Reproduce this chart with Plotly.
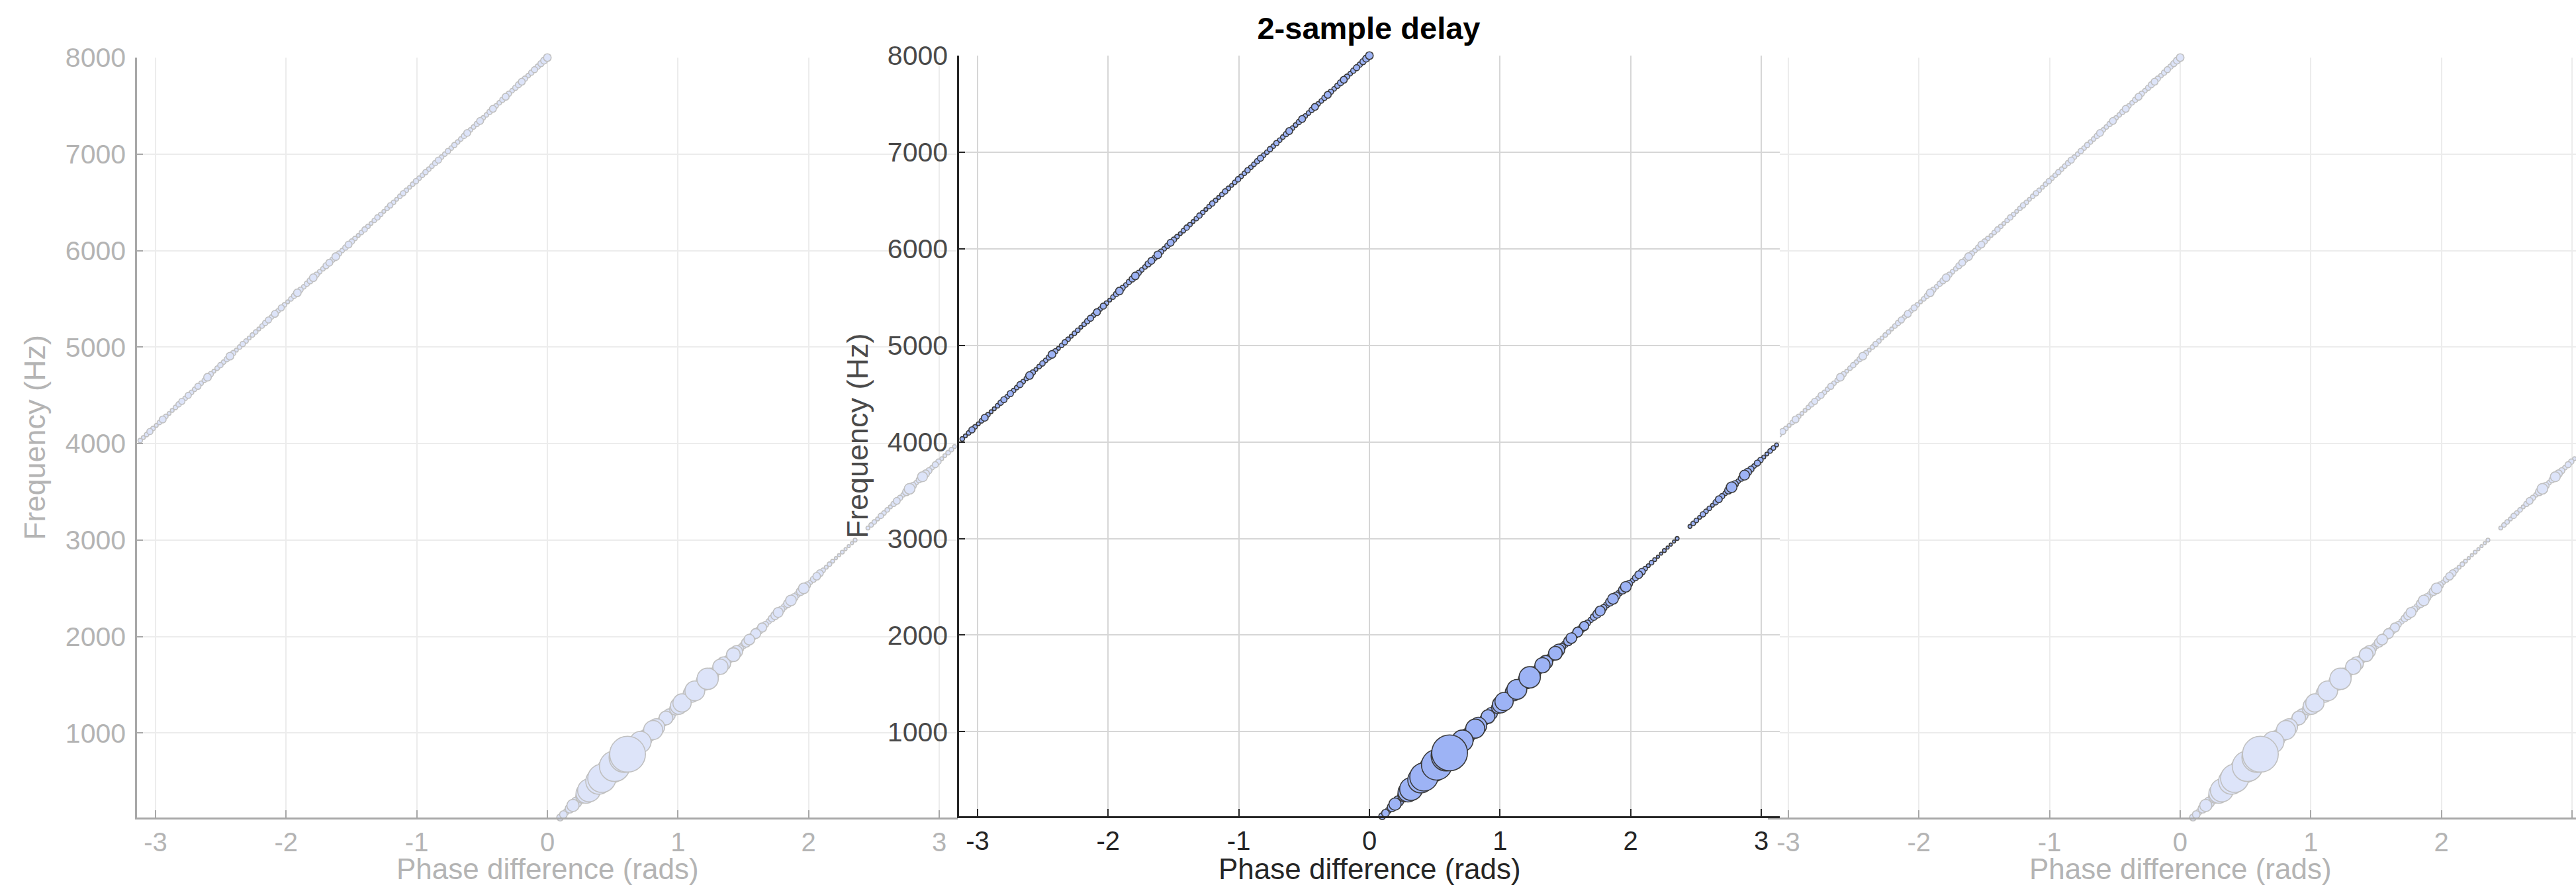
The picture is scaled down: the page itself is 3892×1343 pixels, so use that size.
import math
import plotly.graph_objects as go

# ---------------- data ----------------
title_text = "2-sample delay"
x_label = "Phase difference (rads)"
y_label = "Frequency (Hz)"
x_tick_values = [-3, -2, -1, 0, 1, 2, 3]
x_tick_text = ["-3", "-2", "-1", "0", "1", "2", "3"]
y_tick_values = [1000, 2000, 3000, 4000, 5000, 6000, 7000, 8000]
y_tick_text = ["1000", "2000", "3000", "4000", "5000", "6000", "7000", "8000"]

# lower branch (0 .. pi)
lower_freq_hz = [
    125, 156.25, 187.5, 218.75, 250, 281.25, 312.5, 343.75, 375, 406.25,
    437.5, 468.75, 500, 531.25, 562.5, 593.75, 625, 656.25, 687.5, 718.75,
    750, 781.25, 812.5, 843.75, 875, 906.25, 937.5, 968.75, 1000, 1031.25,
    1062.5, 1093.75, 1125, 1156.25, 1187.5, 1218.75, 1250, 1281.25, 1312.5, 1343.75,
    1375, 1406.25, 1437.5, 1468.75, 1500, 1531.25, 1562.5, 1593.75, 1625, 1656.25,
    1687.5, 1718.75, 1750, 1781.25, 1812.5, 1843.75, 1875, 1906.25, 1937.5, 1968.75,
    2000, 2031.25, 2062.5, 2093.75, 2125, 2156.25, 2187.5, 2218.75, 2250, 2281.25,
    2312.5, 2343.75, 2375, 2406.25, 2437.5, 2468.75, 2500, 2531.25, 2562.5, 2593.75,
    2625, 2656.25, 2687.5, 2718.75, 2750, 2781.25, 2812.5, 2843.75, 2875, 2906.25,
    2937.5, 2968.75, 3000,
    3125, 3156.25, 3187.5, 3218.75, 3250, 3281.25, 3312.5, 3343.75, 3375, 3406.25,
    3437.5, 3468.75, 3500, 3531.25, 3562.5, 3593.75, 3625, 3656.25, 3687.5, 3718.75,
    3750, 3781.25, 3812.5, 3843.75, 3875, 3906.25, 3937.5, 3968.75, 4000,
]
lower_phase_rad = [
    0.098, 0.123, 0.147, 0.172, 0.196, 0.221, 0.245, 0.270, 0.295, 0.319,
    0.344, 0.368, 0.393, 0.417, 0.442, 0.466, 0.491, 0.515, 0.540, 0.565,
    0.589, 0.614, 0.638, 0.663, 0.687, 0.712, 0.736, 0.761, 0.785, 0.810,
    0.834, 0.859, 0.884, 0.908, 0.933, 0.957, 0.982, 1.006, 1.031, 1.055,
    1.080, 1.104, 1.129, 1.154, 1.178, 1.203, 1.227, 1.252, 1.276, 1.301,
    1.325, 1.350, 1.374, 1.399, 1.424, 1.448, 1.473, 1.497, 1.522, 1.546,
    1.571, 1.595, 1.620, 1.644, 1.669, 1.694, 1.718, 1.743, 1.767, 1.792,
    1.816, 1.841, 1.865, 1.890, 1.914, 1.939, 1.963, 1.988, 2.013, 2.037,
    2.062, 2.086, 2.111, 2.135, 2.160, 2.184, 2.209, 2.233, 2.258, 2.283,
    2.307, 2.332, 2.356,
    2.454, 2.479, 2.503, 2.528, 2.553, 2.577, 2.602, 2.626, 2.651, 2.675,
    2.700, 2.724, 2.749, 2.773, 2.798, 2.823, 2.847, 2.872, 2.896, 2.921,
    2.945, 2.970, 2.994, 3.019, 3.043, 3.068, 3.093, 3.117, 3.142,
]
lower_magnitude = [
    9, 10, 8, 12, 16, 14, 12, 18, 26, 30,
    24, 26, 34, 37, 30, 28, 36, 40, 34, 30,
    40, 47, 34, 24, 24, 28, 22, 18, 20, 25,
    22, 14, 14, 18, 16, 12, 16, 22, 24, 16,
    14, 22, 26, 18, 14, 22, 28, 20, 12, 14,
    20, 18, 12, 12, 18, 16, 10, 9, 12, 14,
    10, 13, 10, 12, 8, 7, 9, 11, 13, 9,
    8, 11, 14, 10, 8, 11, 14, 9, 6, 8,
    10, 9, 6, 5, 6, 5, 4, 4, 5, 4,
    4, 4, 5,
    5, 6, 6, 5, 7, 6, 6, 5, 7, 9,
    7, 6, 10, 14, 9, 6, 8, 13, 10, 8,
    6, 8, 7, 5, 5, 6, 6, 5, 6,
]

# upper (wrapped) branch (-pi .. 0)
upper_freq_hz = [
    4031.25, 4062.5, 4093.75, 4125, 4156.25, 4187.5, 4218.75, 4250, 4281.25, 4312.5, 4343.75, 4375, 4406.25, 4437.5, 4468.75, 4500,
    4531.25, 4562.5, 4593.75, 4625, 4656.25, 4687.5, 4718.75, 4750, 4781.25, 4812.5, 4843.75, 4875, 4906.25, 4937.5, 4968.75, 5000,
    5031.25, 5062.5, 5093.75, 5125, 5156.25, 5187.5, 5218.75, 5250, 5281.25, 5312.5, 5343.75, 5375, 5406.25, 5437.5, 5468.75, 5500,
    5531.25, 5562.5, 5593.75, 5625, 5656.25, 5687.5, 5718.75, 5750, 5781.25, 5812.5, 5843.75, 5875, 5906.25, 5937.5, 5968.75, 6000,
    6031.25, 6062.5, 6093.75, 6125, 6156.25, 6187.5, 6218.75, 6250, 6281.25, 6312.5, 6343.75, 6375, 6406.25, 6437.5, 6468.75, 6500,
    6531.25, 6562.5, 6593.75, 6625, 6656.25, 6687.5, 6718.75, 6750, 6781.25, 6812.5, 6843.75, 6875, 6906.25, 6937.5, 6968.75, 7000,
    7031.25, 7062.5, 7093.75, 7125, 7156.25, 7187.5, 7218.75, 7250, 7281.25, 7312.5, 7343.75, 7375, 7406.25, 7437.5, 7468.75, 7500,
    7531.25, 7562.5, 7593.75, 7625, 7656.25, 7687.5, 7718.75, 7750, 7781.25, 7812.5, 7843.75, 7875, 7906.25, 7937.5, 7968.75, 8000,
]
upper_phase_rad = [
    -3.117, -3.093, -3.068, -3.043, -3.019, -2.994, -2.970, -2.945, -2.921, -2.896, -2.872, -2.847, -2.823, -2.798, -2.773, -2.749,
    -2.724, -2.700, -2.675, -2.651, -2.626, -2.602, -2.577, -2.553, -2.528, -2.503, -2.479, -2.454, -2.430, -2.405, -2.381, -2.356,
    -2.332, -2.307, -2.283, -2.258, -2.233, -2.209, -2.184, -2.160, -2.135, -2.111, -2.086, -2.062, -2.037, -2.013, -1.988, -1.963,
    -1.939, -1.914, -1.890, -1.865, -1.841, -1.816, -1.792, -1.767, -1.743, -1.718, -1.694, -1.669, -1.644, -1.620, -1.595, -1.571,
    -1.546, -1.522, -1.497, -1.473, -1.448, -1.424, -1.399, -1.374, -1.350, -1.325, -1.301, -1.276, -1.252, -1.227, -1.203, -1.178,
    -1.154, -1.129, -1.104, -1.080, -1.055, -1.031, -1.006, -0.982, -0.957, -0.933, -0.908, -0.884, -0.859, -0.834, -0.810, -0.785,
    -0.761, -0.736, -0.712, -0.687, -0.663, -0.638, -0.614, -0.589, -0.565, -0.540, -0.515, -0.491, -0.466, -0.442, -0.417, -0.393,
    -0.368, -0.344, -0.319, -0.295, -0.270, -0.245, -0.221, -0.196, -0.172, -0.147, -0.123, -0.098, -0.074, -0.049, -0.025, 0.000,
]
upper_magnitude = [
    6, 5, 6, 8, 6, 5, 6, 9, 6, 5, 5, 6, 7, 8, 6, 8,
    6, 6, 8, 6, 6, 10, 7, 5, 6, 7, 6, 7, 10, 7, 5, 6,
    7, 6, 5, 6, 6, 5, 6, 7, 8, 6, 9, 6, 8, 6, 5, 6,
    7, 10, 7, 6, 7, 8, 10, 7, 6, 6, 8, 9, 7, 10, 7, 6,
    7, 9, 7, 6, 5, 6, 7, 6, 5, 6, 7, 6, 5, 6, 7, 6,
    5, 6, 7, 6, 5, 6, 7, 6, 6, 7, 6, 6, 7, 8, 6, 6,
    7, 6, 7, 6, 6, 7, 9, 6, 6, 7, 9, 6, 6, 7, 9, 6,
    6, 7, 9, 7, 6, 7, 8, 9, 7, 6, 7, 8, 7, 8, 9, 10,
]

# ---------------- figure ----------------
W, H = 3892, 1343
FONT = "Liberation Sans, Arial, Helvetica, sans-serif"
SIZE_SCALE = 1.15  # marker diameter (px) per magnitude unit

phase = lower_phase_rad + upper_phase_rad
freq = lower_freq_hz + upper_freq_hz
mag = lower_magnitude + upper_magnitude
order = sorted(range(len(mag)), key=lambda i: mag[i])  # big markers on top
xs = [phase[i] for i in order]
ys = [freq[i] for i in order]
ss = [mag[i] * SIZE_SCALE for i in order]


def xd(a, b):
    return [a / W, min(b / W, 1.0)]


def yd(top, bottom):
    return [1 - bottom / H, 1 - top / H]


faded = dict(text="#b4b4b4", line="#a8a8a8", grid="#ececec",
             fill="#dde4f9", edge="#c0c0c0")
dark = dict(text="#262626", ytext="#4a4a4a", line="#262626", grid="#d6d6d6",
            fill="#9db3f5", edge="#3a3a3a")

PI = math.pi
panels = [
    # (axis suffix, style, x px domain, y px domain, x range, show y labels)
    ("", faded, (207, 1447), (87, 1235), [-PI, PI], True),
    ("2", faded, (2674, 3892), (87, 1235), [-PI, -PI + (3892 - 2674) / 197.35], False),
    ("3", dark, (1449, 2689), (84, 1233), [-PI, PI], True),
]

fig = go.Figure()
layout = dict(
    template="none",
    width=W, height=H,
    margin=dict(l=0, r=0, t=0, b=0, pad=0, autoexpand=False),
    paper_bgcolor="white", plot_bgcolor="white",
    showlegend=False,
    font=dict(family=FONT),
)
annotations = []

for suf, st, (xa, xb), (yt, yb), xr, showy in panels:
    fig.add_trace(go.Scatter(
        x=xs, y=ys, mode="markers",
        xaxis="x" + suf, yaxis="y" + suf,
        cliponaxis=False,
        marker=dict(size=ss, sizemode="diameter", color=st["fill"],
                    line=dict(color=st["edge"], width=1.6), opacity=1),
        hoverinfo="skip",
    ))
    ytext = st.get("ytext", st["text"])
    layout["xaxis" + suf] = dict(
        domain=xd(xa, xb), range=xr, anchor="y" + suf, automargin=False,
        tickmode="array", tickvals=x_tick_values, ticktext=x_tick_text,
        showgrid=True, gridcolor=st["grid"], gridwidth=2, zeroline=False,
        showline=True, linecolor=st["line"], linewidth=2.5,
        ticks="inside", ticklen=11, tickwidth=2, tickcolor=st["line"],
        tickfont=dict(size=40, color=st["text"], family=FONT),
        ticklabelstandoff=0,
    )
    layout["yaxis" + suf] = dict(
        domain=yd(yt, yb), range=[125, 8000], anchor="x" + suf, automargin=False,
        tickmode="array", tickvals=y_tick_values, ticktext=y_tick_text,
        showgrid=True, gridcolor=st["grid"], gridwidth=2, zeroline=False,
        showline=True, linecolor=st["line"], linewidth=2.5,
        ticks="inside", ticklen=9, tickwidth=2, tickcolor=st["line"],
        tickfont=dict(size=41, color=ytext, family=FONT),
        showticklabels=showy, ticklabelstandoff=6,
    )
    # axis titles
    xc = (xa + (xa + 1240)) / 2
    annotations.append(dict(
        text=x_label, xref="paper", yref="paper", x=xc / W, y=1 - 1312 / H,
        xanchor="center", yanchor="middle", showarrow=False,
        font=dict(size=44, color=st["text"], family=FONT)))
    if showy:
        annotations.append(dict(
            text=y_label, xref="paper", yref="paper", x=(xa - 154) / W,
            y=1 - ((yt + yb) / 2) / H, textangle=-90,
            xanchor="center", yanchor="middle", showarrow=False,
            font=dict(size=45, color=ytext, family=FONT)))

layout["annotations"] = annotations
layout["title"] = dict(text="<b>" + title_text + "</b>", x=2068 / W, xanchor="center",
                       y=1 - 43 / H, yanchor="middle",
                       font=dict(size=47, color="black", family=FONT))
fig.update_layout(**layout)
fig.write_html("out.html")
